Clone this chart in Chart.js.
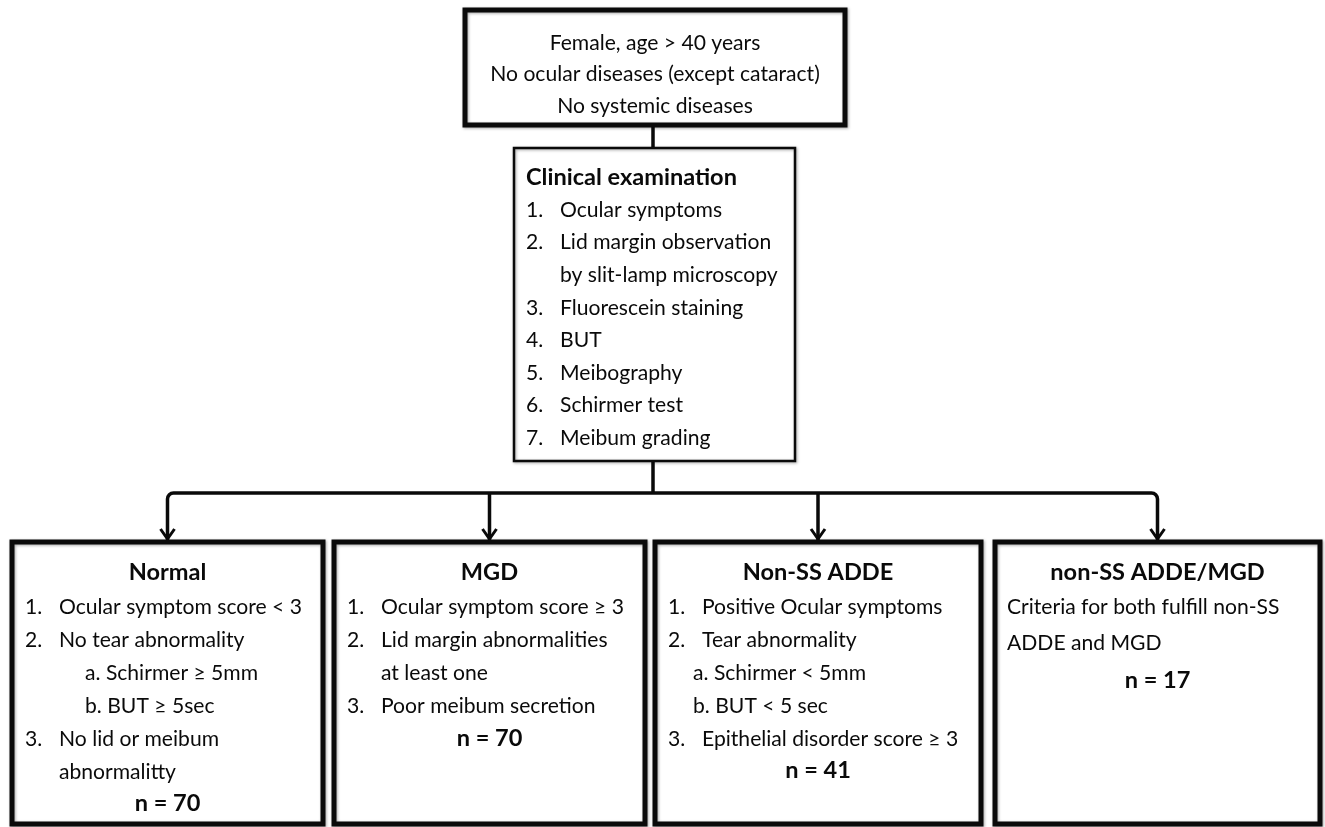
<!DOCTYPE html>
<html>
<head>
<meta charset="utf-8">
<script src="https://cdn.jsdelivr.net/npm/chart.js@4"></script>
<style>
html,body{margin:0;padding:0;background:#fff;}
canvas{display:block;}
</style>
</head>
<body>
<canvas id="c" width="1325" height="827"></canvas>
<script>
// ---- DATA ----
const inclusionCriteria = ["Female, age > 40 years", "No ocular diseases (except cataract)", "No systemic diseases"];
const examTitle = "Clinical examination";
const examItems = [
  ["num", "1.", "Ocular symptoms"],
  ["num", "2.", "Lid margin observation"],
  ["cont", "", "by slit-lamp microscopy"],
  ["num", "3.", "Fluorescein staining"],
  ["num", "4.", "BUT"],
  ["num", "5.", "Meibography"],
  ["num", "6.", "Schirmer test"],
  ["num", "7.", "Meibum grading"]
];
const groupNames = ["Normal", "MGD", "Non-SS ADDE", "non-SS ADDE/MGD"];
const groupCounts = [70, 70, 41, 17];
const normalCriteria = [
  ["num", "1.", "Ocular symptom score < 3"],
  ["num", "2.", "No tear abnormality"],
  ["sub", "", "a. Schirmer \u2265 5mm"],
  ["sub", "", "b. BUT \u2265 5sec"],
  ["num", "3.", "No lid or meibum"],
  ["cont", "", "abnormalitty"]
];
const mgdCriteria = [
  ["num", "1.", "Ocular symptom score \u2265 3"],
  ["num", "2.", "Lid margin abnormalities"],
  ["cont", "", "at least one"],
  ["num", "3.", "Poor meibum secretion"]
];
const addeCriteria = [
  ["num", "1.", "Positive Ocular symptoms"],
  ["num", "2.", "Tear abnormality"],
  ["sub", "", "a. Schirmer < 5mm"],
  ["sub", "", "b. BUT < 5 sec"],
  ["num", "3.", "Epithelial disorder score \u2265 3"]
];
const overlapCriteria = [
  ["plain", "", "Criteria for both fulfill non-SS"],
  ["plain", "", "ADDE and MGD"]
];
const groupCriteria = [normalCriteria, mgdCriteria, addeCriteria, overlapCriteria];

// ---- LAYOUT (chart units, mapped through scales) ----
const topBox = {x0: 465, x1: 845, y0: 10, y1: 125, lw: 5, lines: [43, 74, 106]};
const examBox = {x0: 514, x1: 795, y0: 148, y1: 461, lw: 2.5, titleY: 177, firstY: 210, step: 32.6, numX: 526, textX: 560};
const groupBoxes = [
  {x0: 12, x1: 323, sub: 85, lh: 33, nY: 803},
  {x0: 334, x1: 645, sub: 400, lh: 33, nY: 738},
  {x0: 655, x1: 981, sub: 693, lh: 33, nY: 770},
  {x0: 995, x1: 1320, sub: 1007, lh: 36, nY: 680}
];
const groupTop = 542, groupBottom = 824, groupTitleY = 572, groupFirstY = 607;
const busY = 493;
const FONT = "Lato, 'Open Sans', sans-serif";

const flowPlugin = {
  id: 'flow',
  afterDraw(chart) {
    const ctx = chart.ctx;
    const sx = chart.scales.x, sy = chart.scales.y;
    const px = v => sx.getPixelForValue(v);
    const py = v => sy.getPixelForValue(v);

    function fit(str, weight, target) {
      ctx.font = weight + " 100px " + FONT;
      return 100 * target / ctx.measureText(str).width;
    }
    const bodySize = fit("Ocular symptom score < 3", "normal", 243);
    const boldSize = fit("Clinical examination", "bold", 211);
    const bodyFont = "normal " + bodySize.toFixed(2) + "px " + FONT;
    const boldFont = "bold " + boldSize.toFixed(2) + "px " + FONT;

    ctx.save();
    ctx.fillStyle = "#fff";
    ctx.fillRect(0, 0, chart.width, chart.height);
    ctx.strokeStyle = "#0a0a0a";
    ctx.fillStyle = "#0a0a0a";
    ctx.lineJoin = "miter";

    function box(b, lw) {
      ctx.save();
      ctx.shadowColor = "rgba(0,0,0,0.35)";
      ctx.shadowBlur = 3;
      ctx.shadowOffsetX = 1;
      ctx.shadowOffsetY = 1;
      ctx.lineWidth = lw;
      ctx.strokeRect(px(b.x0), py(b.y0), px(b.x1) - px(b.x0), py(b.y1) - py(b.y0));
      ctx.restore();
    }

    // connectors
    ctx.lineWidth = 3.5;
    ctx.lineCap = "butt";
    const midX = (topBox.x0 + topBox.x1) / 2 - 2;
    ctx.beginPath();
    ctx.moveTo(px(midX), py(topBox.y1));
    ctx.lineTo(px(midX), py(examBox.y0));
    ctx.moveTo(px(midX), py(examBox.y1));
    ctx.lineTo(px(midX), py(busY));
    ctx.stroke();

    const centers = groupBoxes.map(b => (b.x0 + b.x1) / 2);
    const r = 6;
    ctx.beginPath();
    const first = centers[0], last = centers[centers.length - 1];
    ctx.moveTo(px(first), py(groupTop - 2));
    ctx.lineTo(px(first), py(busY + r));
    ctx.arcTo(px(first), py(busY), px(first + r), py(busY), r);
    ctx.lineTo(px(last - r), py(busY));
    ctx.arcTo(px(last), py(busY), px(last), py(busY + r), r);
    ctx.lineTo(px(last), py(groupTop - 2));
    for (let i = 1; i < centers.length - 1; i++) {
      ctx.moveTo(px(centers[i]), py(busY));
      ctx.lineTo(px(centers[i]), py(groupTop - 2));
    }
    ctx.stroke();
    ctx.lineWidth = 3;
    centers.forEach(c => {
      ctx.beginPath();
      ctx.moveTo(px(c - 7), py(groupTop - 13));
      ctx.lineTo(px(c), py(groupTop - 3));
      ctx.lineTo(px(c + 7), py(groupTop - 13));
      ctx.stroke();
    });

    // top box
    box(topBox, topBox.lw);
    ctx.font = bodyFont;
    ctx.textAlign = "center";
    ctx.textBaseline = "middle";
    inclusionCriteria.forEach((t, i) => ctx.fillText(t, px((topBox.x0 + topBox.x1) / 2), py(topBox.lines[i])));

    // exam box
    box(examBox, examBox.lw);
    ctx.textAlign = "left";
    ctx.font = boldFont;
    ctx.fillText(examTitle, px(examBox.numX), py(examBox.titleY));
    ctx.font = bodyFont;
    examItems.forEach((it, i) => {
      const y = py(examBox.firstY + i * examBox.step);
      if (it[1]) ctx.fillText(it[1], px(examBox.numX), y);
      ctx.fillText(it[2], px(examBox.textX), y);
    });

    // group boxes
    groupBoxes.forEach((b, gi) => {
      box({x0: b.x0, x1: b.x1, y0: groupTop, y1: groupBottom}, 5);
      const cx = (b.x0 + b.x1) / 2;
      ctx.textAlign = "center";
      ctx.font = boldFont;
      ctx.fillText(groupNames[gi], px(cx), py(groupTitleY));
      ctx.textAlign = "left";
      ctx.font = bodyFont;
      groupCriteria[gi].forEach((it, i) => {
        const y = py(groupFirstY + i * b.lh);
        const numX = b.x0 + 13, textX = b.x0 + 47;
        if (it[0] === "num") {
          ctx.fillText(it[1], px(numX), y);
          ctx.fillText(it[2], px(textX), y);
        } else if (it[0] === "cont") {
          ctx.fillText(it[2], px(textX), y);
        } else if (it[0] === "sub") {
          ctx.fillText(it[2], px(b.sub), y);
        } else {
          ctx.fillText(it[2], px(b.x0 + 12), y);
        }
      });
      ctx.textAlign = "center";
      ctx.font = boldFont;
      ctx.fillText("n = " + groupCounts[gi], px(cx), py(b.nY));
    });
    ctx.restore();
  }
};

new Chart(document.getElementById('c'), {
  type: 'scatter',
  data: {datasets: [{data: [], pointRadius: 0}]},
  options: {
    responsive: false,
    animation: false,
    layout: {padding: 0},
    plugins: {legend: {display: false}, tooltip: {enabled: false}},
    scales: {
      x: {type: 'linear', min: 0, max: 1325, display: false},
      y: {type: 'linear', min: 0, max: 827, reverse: true, display: false}
    }
  },
  plugins: [flowPlugin]
});
</script>
</body>
</html>
